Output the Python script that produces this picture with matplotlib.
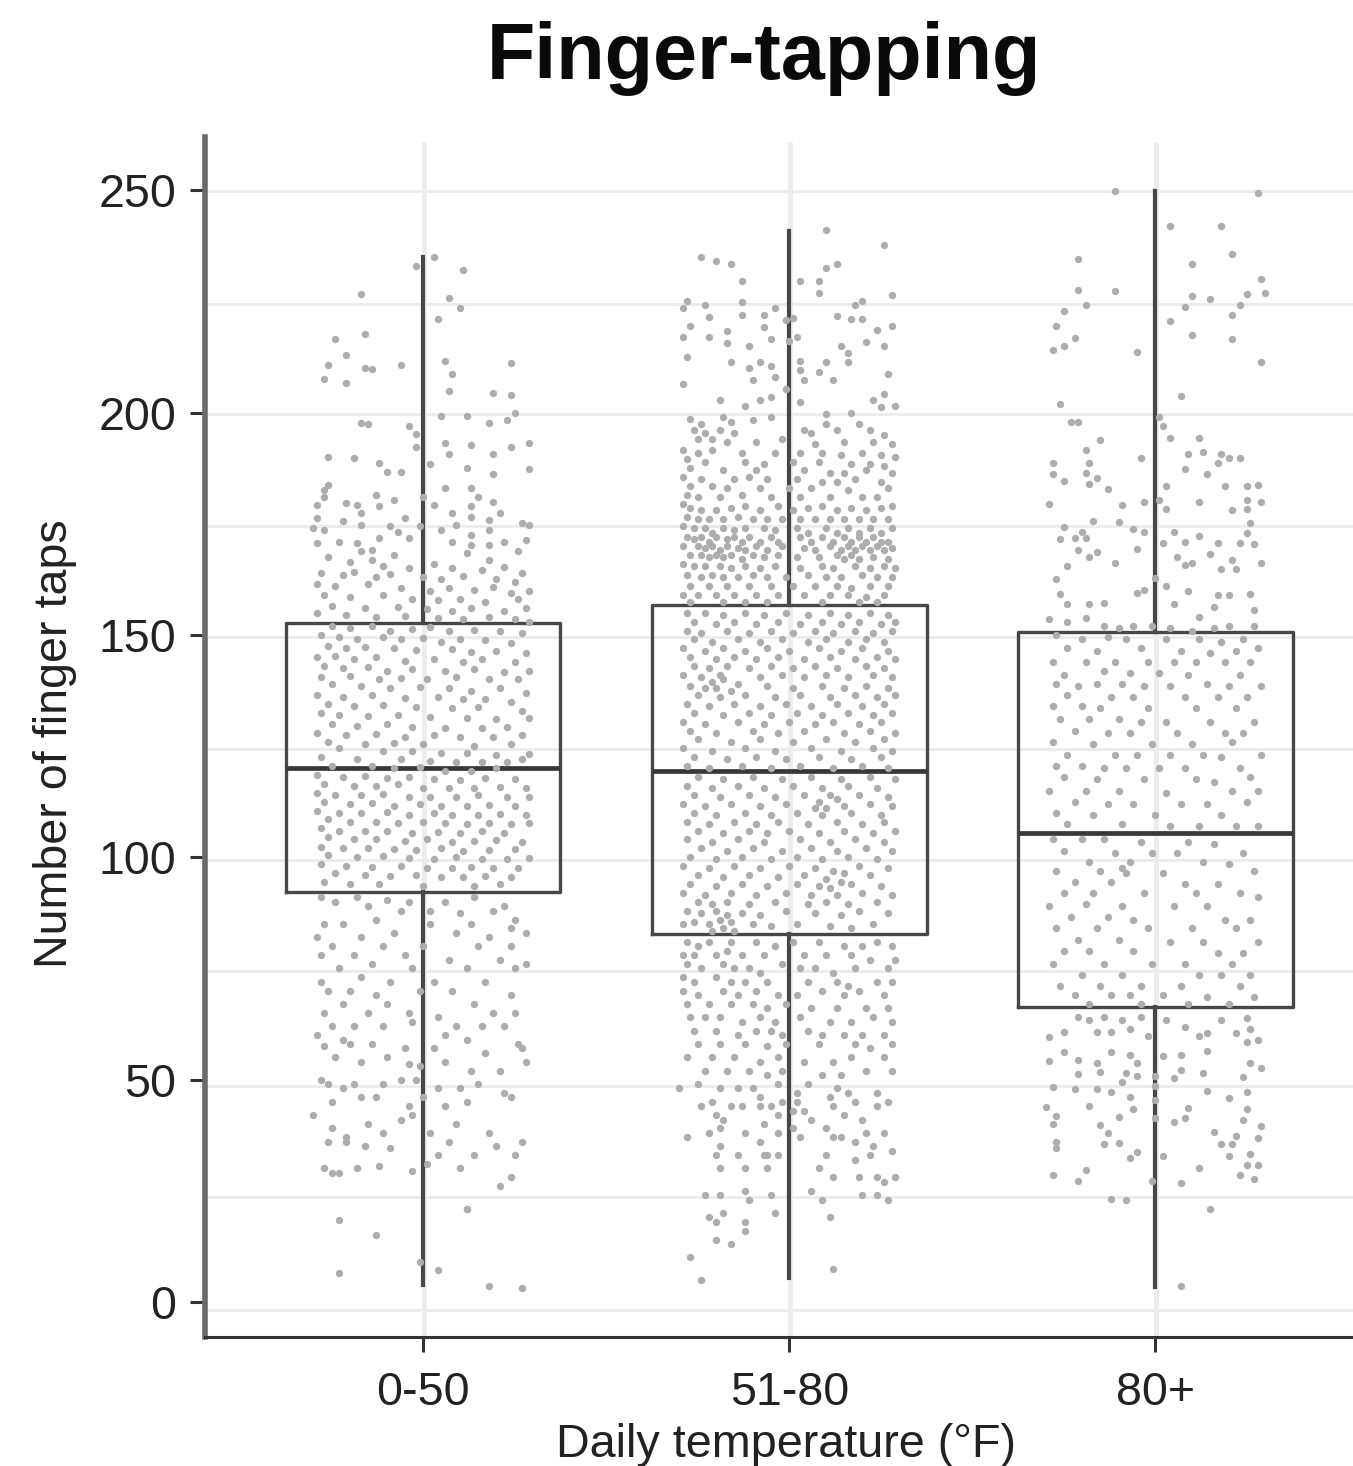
import matplotlib
matplotlib.use("Agg")
import matplotlib.pyplot as plt

plt.rcParams["font.family"] = ["Liberation Sans", "DejaVu Sans"]

categories = ["0-50", "51-80", "80+"]
y_ticks = [0, 50, 100, 150, 200, 250]
grid_y = [249.8, 224.4, 199.6, 174.5, 149.5, 124.3, 99.4, 74.4, 48.6, 23.6, -1.8]

whisker_low = [3.8, 5.4, 3.4]
q1 = [92.2, 82.7, 66.3]
median = [120.0, 119.4, 105.4]
q3 = [152.6, 156.7, 150.6]
whisker_high = [235.0, 240.8, 249.8]

# points: (offset from category centre x100, taps)
points_a = [(3,235),(-2,233),(11,232),(-17,226.8),(7,225.9),(10,223.6),(4,221),(-24,216.5),(-16,217.6),(-21,213),(-26,210.8),(-16,210),(-14,209.9),(-6,210.7),(6,211.6),(24,211.2),(8,208.6),(-27,207.5),(-21,206.7),(7,204.9),(19,204.5),(24,203.9),(-17,197.6),(-15,197.4),(-4,197),(5,199.3),(12,199.2),(25,200),(23,198.3),(18,197.7),(-2,195.2),(6,193.2),(13,192.7),(29,193.2),(24,192.3),(-2,192.3),(19,190.7),(7,190.8),(-26,190),(-19,189.9),(2,188.4),(-12,188.6),(12,187.5),(29,187.3),(-10,186.7),(-6,186.6),(19,186.3),
 (-26,183.7),(-27,182.6),(-27,181),(-29,179.2),(-13,181.5),(-8,180.4),(-21,179.6),(-18,179.2),(-12,178.9),(0,181),(3,179.2),(6,183),(13,183),(15,181),(13,178.9),(13,176.6),(19,180),(21,177.4),(8,177.5),(-29,176.2),(-30,174),(-27,173.6),(-22,175.7),(-17,177.4),(-17,174.7),(-5,176.2),(-9,174.4),(-7,173.2),(-4,171.7),(-1,174.4),(5,173.6),(9,174.7),(18,175.9),(18,173.6),(27,175.1),(29,174.7),(-29,170.6),(-23,171),(-18,170.6),(-12,171.7),(8,170.8),(13,172.5),(13,170.2),(18,170.2),(22,171),(28,171.4),(-17,168.8),(-14,169.1),(-8,168),(-26,167.5),(12,168.4),(26,168.8),(-14,166.9),(-20,166.5),(18,166.9),
 (-11,165.5),(-4,165),(3,166),(8,165),(16,164.5),(22,165.2),(27,164),(-28,164),(-22,163.5),(-19,164.2),(-13,163),(-9,163.8),(0,163),(5,162.5),(11,163.2),(20,162.6),(25,162),(-29,161.5),(-24,161),(-15,161.4),(-6,160.5),(2,160),(7,160.6),(14,160.2),(19,160.8),(24,159.5),(29,160),(-27,159),(-20,158.5),(-11,159),(-3,158),(4,157.8),(10,158.2),(17,157.5),(26,158),(-25,156.5),(-16,156),(-7,156.4),(1,155.8),(8,155.5),(13,156),(22,155.5),(28,156),(-29,155),(-21,154.5),(-13,154),(-5,154.2),(4,153.8),(11,153.5),(18,154),(25,153.5),(29,153),
 (-25,152),(-20,151.5),(-14,152),(-9,151),(-3,151.4),(2,151.8),(7,150.8),(14,151.2),(21,151),(27,150.5),(-28,150),(-23,149.5),(-18,149),(-11,149.6),(-6,149),(0,149.4),(5,148.5),(10,149),(17,148.8),(24,148.2),(-26,147.5),(-21,147),(-16,147.4),(-8,147),(-2,146.6),(8,146.8),(13,146.2),(20,146.4),(28,146),(-29,145),(-24,145.2),(-19,144.6),(-13,145),(-5,144.2),(3,144.6),(11,144),(16,144.5),(25,144),(-27,143),(-22,142.5),(-15,142.8),(-10,142),(-3,142.4),(6,142),(14,142.4),(22,141.6),(29,142),(-28,140.5),(-20,140.8),(-12,140),(-6,140.4),(1,140),(9,140.6),(18,140),(26,140),
 (-25,139),(-17,138.5),(-9,138),(-1,138.4),(7,138),(13,137.5),(21,138),(28,137),(-29,136.5),(-22,136),(-14,136.4),(-5,135.8),(4,136),(11,135.5),(17,135.6),(24,135),(-26,134.5),(-19,134),(-11,134.2),(-2,133.8),(8,133.5),(15,133.8),(27,133),(-28,132.5),(-23,132),(-15,131.8),(-7,132),(2,131.5),(12,131.4),(20,131),(29,131.4),(-25,130),(-18,129.6),(-10,130),(-3,129.4),(6,129),(16,129),(23,129.4),(-29,128),(-21,127.6),(-13,127.8),(-5,127),(3,127.4),(10,127),(19,127),(27,127.5),(-26,126),(-16,125.5),(-8,125.8),(0,125.4),(14,125),(24,125.4),
 (-23,124.5),(-11,124),(-3,123.8),(5,123.5),(12,123.4),(20,123),(29,123.2),(-28,122.5),(-18,122),(-6,122),(2,121.6),(9,121.5),(16,121.4),(23,121.4),(27,122),(-25,120.5),(-14,120.5),(-8,120),(-1,120.4),(6,119.5),(13,119.5),(20,120),(-29,118.5),(-22,118),(-16,118.2),(-10,117.8),(-4,118),(3,117.5),(10,117.4),(17,117.8),(25,117.6),(-27,116.5),(-19,116),(-13,116),(-7,116.4),(0,115.5),(7,115.6),(14,115.6),(21,115.8),(28,115.5),(-29,114.5),(-24,114),(-17,114),(-11,114.2),(-4,113.5),(2,113.6),(9,113.5),(15,114),(23,113.6),(29,113.5),(-27,112.4),(-20,112),(-14,112.2),(-8,111.6),(-1,112),(5,111.6),(12,111.5),(18,111.8),(25,111.6),
 (-29,110.5),(-23,110),(-17,110),(-10,110.2),(-4,109.5),(3,110),(8,109.6),(15,109.5),(21,109.8),(28,109.6),(-26,108.5),(-20,108),(-13,108),(-7,107.8),(0,108),(6,107.6),(12,107.5),(18,107.8),(24,107.5),(29,107.6),(-28,106.5),(-23,106),(-16,106),(-10,105.8),(-3,105.5),(4,105.6),(10,105.5),(16,105.8),(22,105.5),(-26,104.5),(-19,104),(-13,104.2),(-5,103.6),(1,104),(8,103.5),(14,103.6),(20,103.8),(27,103.5),(-28,102.4),(-22,102),(-15,102),(-8,101.8),(-2,101.6),(5,102),(11,101.5),(18,101.6),(25,101.8),(-26,100.4),(-18,100),(-11,100.2),(-4,99.8),(3,99.6),(9,100),(16,99.5),(23,99.6),(29,99.8),(-28,98.5),(-21,98),(-14,97.8),(-6,98),(1,97.6),(8,97.5),(13,97.8),(19,97.5),(26,97.6),(-24,96.5),(-16,96),(-9,95.8),(-2,96),(5,95.6),(11,95.5),(17,95.8),(24,95.5),(-27,94.5),(-20,94),(-12,94),(0,93.6),(14,93.5),(21,94),
 (-28,91),(-24,90),(-18,91),(-10,90.5),(-4,90),(6,90),(14,91),(22,89),(-15,89),(-6,88),(2,88),(10,87.5),(19,88),(25,86),(-27,85),(-22,85),(-13,86),(2,85),(13,85),(24,84),(-29,82),(-17,82),(-8,83),(9,83),(18,82),(28,83),(-25,80),(-11,80),(0,80),(15,80),(24,80),(-28,78),(-19,78),(-5,78),(7,77),(21,77),(28,76),(-14,76),(-23,75),(-3,75),(12,75),(25,75),(-28,72),(-17,73),(-9,72),(3,72),(17,72),(-26,70),(-20,70),(-13,69),(-1,70),(8,70),(24,69),(-22,67),(-10,67),(14,67),(-27,65),(-15,65),(-4,65),(4,64),(19,65),(25,65),(-25,62),(-19,62),(-11,62),(-3,63),(9,62),(16,62),(22,62),(-29,60),(-22,59),(-14,58),(6,60),(12,59),(26,58),
 (-27,57.5),(-20,58),(-5,57),(3,57),(17,56),(27,57),(-24,55),(-17,54),(-10,55),(-4,53.5),(-1,53),(6,54),(13,52),(21,52),(28,54),(-28,50),(-26,49),(-22,48),(-19,49),(-11,49),(-6,50),(-2,50),(4,48),(10,48),(15,49),(22,47),(-25,45),(-17,46),(-13,46),(-4,44),(0,46),(6,44),(12,45),(24,46),(-30,42),(-25,39),(-21,37),(-15,40),(-11,38),(-6,41),(-3,42),(2,38),(9,40),(18,38),(27,36),(-26,36),(-21,36),(-16,35),(-9,34.5),(4,33),(7,36),(14,33),(20,35),(25,33),(-27,30),(-23,29),(-18,30),(-12,30.5),(-3,29.5),(1,31),(10,30),(24,28),(21,26),(-25,29),(12,21),
 (-23,18.4),(-13,15),(-23,6.5),(-1,9),(4,7.2),(12,21),(18,3.6),(27,3.2)]

points_b = [(10,241),(26,237.7),(-24,235),(-20,234.2),(-16,233.5),(13,233.5),(10,232.5),(-13,229.7),(3,229.7),(8,229.7),(8,226.9),(28,226.5),(-13,224.9),(20,225.2),(18,224.3),(-28,225.2),(-29,223.6),(-23,224.3),(-22,221.5),(-13,222),(-7,221.9),(-4,223.6),(-1,220.9),(1,221.3),(13,221.7),(17,221),(20,221),(-27,219.4),(-7,219.2),(28,219.4),(24,218.5),(-17,218.3),(-29,217),(-22,217),(-5,216.6),(0,216.2),(2,217.1),(-17,215.7),(-11,215.1),(21,216),(26,215),(14,215),(16,213.4),(-28,212.5),(-16,211.4),(-11,210),(-8,211.4),(-5,210.6),(3,211.7),(10,211.5),(16,211.5),(3,209.5),(8,209.1),(27,208.8),(-29,206.5),(-10,207.3),(-4,208),(4,207.3),(12,207.3),(-1,205.4),(26,204.3),(-19,202.8),(-8,202.9),(-5,203.5),(3,202.5),(23,202.8),(29,201.6),(25,201.3),(-12,201.5),(10,199.8),(17,200),(-5,199),(-18,199),(-27,198.6),(-24,197.4),(-10,198.3),(-16,197.9),(10,197.4),(19,197.5),
 (-26,196),(-23,195.5),(-19,196),(-15,195.5),(4,196),(6,195.5),(13,196),(22,196),(26,195),(-25,194),(-21,194),(-17,193.5),(-9,193.5),(-2,194),(7,193),(15,193.5),(23,193.5),(28,193),(-29,191.5),(-25,191),(-21,191.5),(-13,191),(-4,191),(3,191),(9,191),(14,190.5),(20,191),(25,190.5),(29,190),(-28,189.5),(-23,189),(-12,189),(-7,188.5),(1,189),(8,189),(17,188.5),(22,188.5),(26,188),(-27,187.5),(-18,187),(-9,187),(4,187),(11,186.5),(15,186.5),(21,187),(28,186.5),(-29,185.5),(-24,185),(-15,185),(-11,185.5),(-6,185),(2,185),(9,184.5),(13,184.5),(18,185),(25,184.5),(-27,183.5),(-21,183.5),(-17,183),(-8,183),(0,183),(6,183),(16,182.5),(27,183),(-28,181.5),(-25,181),(-19,181),(-13,181.5),(-5,181),(3,181),(11,181),(20,181),(24,181),
 (-29,179.5),(-27,178.5),(-24,178),(-20,178),(-16,178.5),(-12,179),(-8,178),(-3,179),(1,178),(5,178.5),(9,179),(13,178),(17,178.5),(21,178),(25,178.5),(28,179),(-28,176.5),(-25,176),(-22,176),(-18,176),(-14,176.5),(-10,176),(-6,176),(-2,176),(3,176),(7,176),(11,176),(15,176),(19,176),(23,176),(27,176),
 (-29,174.5),(-26,174),(-23,174),(-21,173),(-18,174),(-15,173.5),(-12,174),(-7,174),(-4,173.5),(2,174),(5,173),(10,174),(13,173),(16,174),(19,173),(22,174),(25,173),(28,174),(-28,172),(-26,171.5),(-24,172),(-22,171),(-20,172),(-17,171.5),(-15,172),(-13,171),(-11,172),(-8,171),(-5,172),(-3,171),(3,172),(6,171),(9,172),(12,171),(15,172),(17,171),(19,172),(21,171),(23,172),(25,171),(27,171),
 (-29,170),(-25,170),(-23,169.5),(-21,170),(-19,169),(-17,170),(-14,169.5),(-12,169),(-9,170),(-6,169),(-2,170),(4,169.5),(7,169),(11,170),(14,169),(16,170),(18,169),(20,170),(22,169),(24,170),(26,169),(28,169.5),(-27,168),(-24,168),(-22,167.5),(-20,168),(-18,167.5),(-16,168),(-13,167),(-10,168),(-7,167.5),(-3,168),(2,167.5),(8,167.5),(13,168),(15,167),(17,168),(19,167),(23,167.5),(27,167),
 (-29,166),(-26,165.5),(-23,165.5),(-19,165.5),(-16,165),(-12,165.5),(-8,165),(-4,165.5),(3,165),(9,165.5),(12,165),(18,165.5),(22,165),(26,165.5),(29,165),(-28,163.5),(-24,163),(-21,163.5),(-18,163),(-14,163),(-10,163.5),(-6,163),(-1,163),(5,163.5),(10,163),(14,163),(20,163.5),(24,163),(28,163),(-27,161),(-22,161),(-17,161),(-11,161),(-5,161),(1,161),(7,161),(13,161),(17,160.5),(22,161),(27,161),(-29,159),(-25,159),(-20,159),(-15,159),(-9,159),(-3,159),(4,159),(11,159),(16,159),(21,158.5),(26,159),(-27,157.5),(-18,157.5),(-12,157.5),(-6,157.5),(9,157.5),(19,157.5),(24,157.5),
 (-28,155),(-23,155),(-18,154.5),(-12,155),(-7,154.5),(-1,155),(5,154.5),(11,155),(16,154.5),(22,155),(27,154.5),(-26,153),(-20,152.5),(-15,153),(-9,152.5),(-3,153),(3,152.5),(9,153),(14,152.5),(19,153),(25,152.5),(29,153),(-28,151),(-24,150.5),(-17,151),(-11,150.5),(-5,151),(1,150.5),(7,151),(12,150.5),(18,151),(23,150.5),(28,151),(-26,149),(-21,148.5),(-14,149),(-8,148.5),(-2,149),(5,148.5),(10,149),(16,148.5),(21,149),(26,148.5),(-29,147),(-23,146.5),(-18,147),(-12,146.5),(-6,147),(0,146.5),(8,147),(14,146.5),(20,147),(27,146.5),(-27,145),(-20,144.5),(-15,145),(-9,144.5),(-3,145),(4,144.5),(11,145),(18,144.5),(24,145),(29,144.5),
 (-26,143),(-22,142.5),(-17,143),(-11,142.5),(-5,143),(1,142.5),(7,143),(13,142.5),(21,143),(26,142.5),(-29,141),(-24,140.5),(-19,141),(-21,139.5),(-18,140),(-14,139),(-8,140.5),(-2,141),(4,140.5),(10,141),(16,140.5),(23,141),(28,140.5),(-27,138.5),(-23,138),(-20,138),(-16,137.5),(-6,138.5),(1,138),(9,138.5),(15,138),(21,138.5),(27,138),(-25,136.5),(-19,136),(-12,136.5),(-4,136),(3,136.5),(11,136),(18,136.5),(24,136),(29,136.5),(-28,134.5),(-22,134),(-15,134.5),(-8,134),(-1,134.5),(6,134),(13,134.5),(20,134),(26,134.5),(-26,132.5),(-18,132),(-11,132.5),(-5,132),(2,132.5),(9,132),(16,132.5),(23,132),(28,132.5),(-29,130.5),(-23,130),(-14,130.5),(-7,130),(0,130.5),(7,130),(12,130.5),(19,130),(25,130.5),(-27,128.5),(-20,128),(-10,128.5),(-3,128),(4,128.5),(15,128),(22,128.5),(29,128),(-25,126.5),(-16,126),(-8,126.5),(1,126),(10,126.5),(18,126),(26,126.5),(-29,124.5),(-21,124),(-12,124.5),(-4,124),(6,124.5),(14,124),(23,124.5),(28,124),(-26,122.5),(-17,122),(-9,122.5),(-1,122),(8,122.5),(17,122),(25,122.5),
 (-28,120.5),(-22,120),(-13,120.5),(-5,120),(3,120.5),(12,120),(20,120.5),(27,120),(-25,118),(-18,117.5),(-10,118),(-2,117.5),(6,118),(14,117.5),(22,118),(29,117.5),(-28,116),(-21,115.5),(-14,116),(-7,115.5),(1,116),(9,115.5),(11,114),(16,116),(24,115.5),(-26,114),(-19,113.5),(-11,114),(-4,113.5),(4,114),(8,112.5),(13,113),(19,114),(27,113.5),(-29,112),(-23,111.5),(-16,112),(-8,111.5),(-1,112),(7,111),(10,111),(15,111.5),(22,112),(28,111.5),(-26,110),(-20,109.5),(-12,110),(-5,109.5),(2,110),(9,109.5),(17,110),(25,109.5),(-28,108),(-22,107.5),(-15,108),(-9,107.5),(-3,108),(5,107.5),(13,108),(20,107.5),(26,108),(-25,106),(-18,105.5),(-11,106),(-6,105.5),(0,106),(8,105.5),(15,106),(23,105.5),(29,106),(-28,104),(-21,103.5),(-14,104),(-7,103.5),(3,104),(11,103.5),(18,104),(26,103.5),(-24,102),(-17,101.5),(-10,102),(-2,101.5),(6,102),(13,101.5),(21,102),(28,101.5),(-27,100),(-20,99.5),(-13,100),(-5,99.5),(2,100),(9,99.5),(16,100),(24,99.5),(-29,98),(-22,97.5),(-15,98),(-8,97.5),(0,98),(7,97.5),(12,97),(15,96.5),(19,98),(27,97.5),(-25,96),(-18,95.5),(-11,96),(-3,95.5),(4,96),(10,95),(14,94.5),(22,96),(-27,94),(-20,93.5),(-13,94),(-6,93.5),(2,94),(8,93.5),(11,93),(17,94),(25,93.5),(-29,92),(-23,91.5),(-16,92),(-9,91.5),(-1,92),(6,91.5),(13,91.5),(20,92),(28,91.5),(-25,90),(-21,89.5),(-17,90),(-11,89.5),(-4,90),(5,89.5),(10,90),(16,89.5),(24,90),
 (-28,88),(-24,87.5),(-20,88),(-19,86),(-17,87),(-16,85.5),(-13,87.5),(-8,87),(-1,88),(7,87.5),(14,87),(19,88),(27,87.5),(-29,85),(-26,85.5),(-22,85),(-21,83.5),(-18,84),(-15,83.5),(-10,85),(-5,84.5),(2,85),(11,84.5),(17,84),(23,85),
 (-28,81),(-25,80),(-22,81),(-16,81),(-9,81),(-4,80),(1,81),(8,81),(15,80),(20,80),(24,81),(28,80),(-29,78),(-26,78),(-20,78),(-17,79),(-13,78),(-7,78),(4,78),(10,78),(17,78),(22,77),(29,77),(-28,76),(-24,75),(-18,76),(-15,75),(-11,75),(-8,74),(-2,76),(3,75),(7,75),(12,74),(18,75),(27,75),(-29,73),(-26,72),(-20,73),(-16,72),(-12,72),(-6,72),(5,72),(13,72),(16,71),(24,72),(28,72),(-29,70),(-25,69),(-18,70),(-14,69),(-9,70),(-3,69),(2,69),(9,70),(15,69),(19,70),(26,69),(-28,67),(-22,67),(-16,67),(-10,67),(-6,66),(-1,67),(6,66),(13,66),(21,66),(27,66),(-27,64),(-23,64),(-19,64),(-13,63),(-8,64),(-4,63),(3,64),(11,63),(17,63),(23,64),(28,63),(-26,61),(-20,61),(-14,60),(-9,61),(-5,61),(-2,60),(5,61),(9,60),(15,60),(20,60),(26,60),(-25,58),(-19,58),(-12,58),(-6,57.5),(-1,58),(8,58),(18,58),(22,57),(28,58),(-28,55),(-21,55),(-15,55),(-8,54),(-3,55),(4,54),(12,54),(17,55),(26,55),(-23,52),(-17,52),(-11,52),(-6,51),(-2,52),(9,51),(14,51),(21,52),(28,52),(-30,48),(-25,49),(-19,48),(-14,48),(-10,48),(-3,49),(2,47),(5,49),(13,48),(16,47),(24,47),(-21,45),(-13,44),(-8,46),(-2,45),(2,45),(11,46),(18,45),(27,45),
 (-24,44),(-20,42),(-16,44),(-8,44),(-5,44),(-3,42),(1,43),(4,43),(12,44),(15,42),(20,41),(24,44),(-18,41),(-22,38),(-19,39),(-12,38),(-7,40),(-3,38),(1,39),(6,41),(10,39),(14,37),(21,38),(26,38),(-28,37),(-19,35),(-8,36),(3,37),(12,37),(18,36),(23,35),(-20,33),(-14,33),(-7,33),(-6,33),(-3,33),(10,33),(18,32),(22,33),(28,34),(-19,30),(-12,30),(-6,30),(8,30),(12,28),(19,28),(24,28),(26,27),(29,28),(-23,24),(-19,24),(-12,25),(-11,23),(-5,24),(6,25),(9,23),(20,24),(24,24),(27,23),(-18,20),(-22,19),(-20,18),(-12,18),(-4,20),(11,19),(-12,16),(-27,10),(-24,5),(12,7.5),(-20,14),(-16,13)]

points_c = [(-11,249.8),(28,249.5),(4,242),(18,242),(-21,234.5),(10,233.5),(21,235.7),(29,230),(-21,227.7),(-11,227.4),(10,226.3),(15,225.5),(25,226.7),(30,227),(-19,224.3),(-25,222.8),(8,223.7),(23,224.3),(21,221.9),(4,220.6),(-27,219.6),(10,217.5),(-22,216.8),(21,216.5),(-25,214.9),(-28,214),(-5,213.6),(29,211.5),(7,203.7),(-26,202),(-21,198),(-23,198),(1,199),(2,197),(-15,193.8),(4,194.3),(12,194.2),(-19,191.7),
 (-28,188.7),(-18,188.7),(-28,186.1),(-25,184.6),(-19,186.5),(-16,185.2),(-18,184),(-13,182.8),(-4,189.9),(9,190.6),(13,191.2),(18,190.8),(17,188.7),(20,189.7),(23,189.9),(8,187.4),(14,186.1),(3,183.4),(19,183.5),(25,183.4),(28,183.7),(-29,179.5),(-9,179.2),(-3,179.9),(1,180.4),(3,178.3),(12,179.9),(25,180.3),(29,179.9),(25,178.4),(21,178),(-17,175.7),(-10,175.3),(-25,174.3),(-6,173.9),(-3,173.2),(26,175.2),(25,173),(-20,173.2),(5,173.2),(-19,171.7),(-26,171.5),(-22,171.7),(12,172.2),(8,170.9),(2,170.6),(17,170.7),(23,170.7),(27,170.4),(-5,169.4),(-21,169),(-16,168.7),(-18,167.6),(15,168.3),(6,167.6),(-11,166.2),(-24,165.5),(8,165.7),(10,166.2),(18,164.9),(22,164.9),(21,166.8),(29,166.2),(-27,162.5),(0,162.7),(3,161),(-26,159.3),(-5,159.5),(-3,160.2),(9,160),(17,159),(20,159),(26,159.3),(-24,157),(-18,156.9),(-14,157.2),(5,157),(16,156.3),(27,155.6),(12,154.1),(-29,153.5),(-24,153),(-19,153.9),
 (-14,152),(-10,151.5),(-6,152),(-1,152),(4,151.5),(10,151),(16,151.5),(20,152),(27,152),(-27,150),(-20,149),(-13,149.5),(-8,149),(3,149),(12,149),(18,148.5),(24,149),(-24,147),(-16,146.5),(-4,147),(7,146.5),(15,146),(22,146.5),(28,147),(-28,144),(-19,144),(-11,144),(-2,144),(5,144),(11,144),(19,144),(26,144),(-25,141),(-14,142),(-7,141.5),(1,141.5),(9,141),(23,141),(-27,139),(-21,138.5),(-16,139),(-9,139),(-3,138.5),(4,138.5),(14,139),(20,138.5),(29,138.5),(-24,136.5),(-12,136),(-6,136),(8,136),(17,136),(25,136),(-28,134),(-20,134),(-15,133.5),(-2,133.5),(11,133.5),(22,133.5),(-26,131),(-18,131),(-10,131),(-4,130.5),(3,130.5),(15,130.5),(27,130.5),(-22,128.5),(-13,128),(-7,128),(6,128),(19,128),(24,128),(-28,126),(-17,125.5),(-1,125.5),(10,125.5),(21,126),(-24,123),(-11,123),(-5,123),(4,123),(13,123),(18,122.5),(29,123),(-27,120.5),(-20,120.5),(-14,120),(-8,120),(1,120),(8,120),(23,120),(26,118),(-25,118),(-16,117.5),(-3,117.5),(11,117.5),(16,117),(-29,115),(-19,115),(-10,115),(3,114.5),(21,115),(28,115),(-22,112.5),(-13,112),(-6,112),(7,112),(14,112),(25,112.5),(-27,110),(-17,109.5),(0,109.5),(18,109.5),(-24,107.5),(-9,107.5),(4,107),(12,107),(22,107),(28,107),(-28,104),(-20,104),(-14,104),(-4,103.5),(9,103.5),(16,103),(-25,101.5),(-11,101),(-1,101),(6,101),(24,101),(-18,99),(-7,99),(13,99),(20,98.5),(-27,97),(-15,97),(-9,97.5),(-8,96.5),(2,96.5),(27,97),(-22,94.5),(-12,94.5),(8,94),(17,94),(-25,92),(-17,92),(-3,92),(11,92),(23,92),(28,91),(-29,89),(-19,89.5),(-9,89),(5,89),(14,89),(-23,86.5),(-13,86.5),(-6,86),(19,86),(26,86),(-27,84),(-16,84),(-2,84),(10,84),(22,84),(-21,81.5),(-10,81.5),(4,81),(13,81),(28,81),(-25,79),(-18,79),(-6,79),(17,78.5),(24,78.5),(-28,76),(-14,76),(-1,76),(8,76),(21,76),(-20,73.5),(-9,73.5),(12,73.5),(18,73.5),(26,73.5),(-26,71),(-15,71),(-4,71),(7,71),(23,71),(-22,69),(-12,69),(-7,69),(2,69),(14,68.5),(27,68.5),(-18,67),(-4,67),(9,67),(20,67),
 (-29,59.5),(-25,60.8),(-16,60.8),(-12,60.8),(-7,61.3),(-2,59.8),(8,61.8),(14,60.4),(12,59.8),(18,63.4),(25,63.8),(22,60.4),(25,58.5),(28,58.9),(26,61.3),(-21,64),(-18,63.5),(-14,64),(-9,63.5),(-4,64),(3,63.5),(-25,56.3),(-29,54.2),(-21,54.4),(-12,56.3),(-7,55.5),(-5,53.8),(2,55.3),(7,55.5),(14,56.5),(26,53.7),(29,52.7),(-16,53.8),(-21,51.3),(-15,51.8),(-8,51.4),(-5,50.7),(0,50.7),(7,52.2),(5,50.3),(13,51.4),(24,50.5),(-28,48.4),(-22,47.8),(-16,47.8),(-12,47.3),(-9,49.5),(0,48.6),(14,47.5),(25,47.3),(20,45.8),(-7,46),(0,45.4),(-18,44.1),(-30,43.8),(-6,43.4),(9,43.6),(25,43.3),(-27,41.7),(-28,40),(-15,39.8),(-10,41.5),(0,41.3),(8,41.3),(5,40.4),(24,41),(29,39.6),(16,38.3),(-13,37.9),(28,36.8),(22,37.2),(-27,36),(-14,35.5),(-10,35.8),(18,35.5),(21,35.5),(-27,34.6),(26,33.3),(-5,33.6),(-7,32.3),(2,32.7),(20,32.7),(25,30.7),(28,30.7),(12,30.1),(-19,29.6),(-28,28.6),(23,28.6),(27,27.7),(-21,27.2),(-1,27.2),(7,26.7),(-12,23.2),(-8,23),(15,20.9),(7,3.6)]

point_colour = "#adadad"
dark = "#474747"

fig = plt.figure(figsize=(13.53, 14.66), dpi=100)
ax = fig.add_axes([205 / 1353, (1466 - 1337) / 1466, (1353 - 205) / 1353, (1337 - 137) / 1466])

for g in grid_y:
    ax.axhline(g, color="#ececec", lw=2.2, zorder=1)
for i in range(len(categories)):
    ax.plot([i + 0.003, i + 0.003], [-7.9, 260.5], color="#ececec", lw=3.4, zorder=1)

stats = []
for i, name in enumerate(categories):
    stats.append({"label": name, "whislo": whisker_low[i], "q1": q1[i], "med": median[i],
                  "q3": q3[i], "whishi": whisker_high[i], "fliers": []})
ax.bxp(stats, positions=[0, 1, 2], widths=0.75, showcaps=False, showfliers=False,
       boxprops=dict(color=dark, lw=2.4), whiskerprops=dict(color=dark, lw=3),
       medianprops=dict(color="#383838", lw=3.4), zorder=3)

for i, pts in enumerate([points_a, points_b, points_c]):
    xs = [i + p[0] / 100 for p in pts]
    ys = [p[1] for p in pts]
    ax.scatter(xs, ys, s=28, color=point_colour, linewidths=0, zorder=4)

ax.set_xlim(-0.596, 2.54)
ax.set_ylim(-7.9, 262)
ax.set_xticks([0, 1, 2])
ax.set_xticklabels(categories)
ax.set_yticks(y_ticks)
ax.tick_params(axis="both", labelsize=33.5, length=10.5, width=2.2, color="#333333", labelcolor="#222222")
ax.tick_params(axis="x", pad=14)
ax.tick_params(axis="y", pad=10)

ax.spines["top"].set_visible(False)
ax.spines["right"].set_visible(False)
ax.spines["left"].set_color("#6a6a6a")
ax.spines["left"].set_linewidth(4)
ax.spines["bottom"].set_color("#333333")
ax.spines["bottom"].set_linewidth(2.2)

ax.set_xlabel("Daily temperature (°F)", fontsize=33.7, color="#222222")
ax.set_ylabel("Number of finger taps", fontsize=33.6, color="#222222")
ax.xaxis.set_label_coords((786 - 205) / 1148, -(1423 - 1337) / 1200)
ax.yaxis.set_label_coords((77 - 205) / 1148, (1337 - 744) / 1200)
fig.text(764 / 1353, 1 - 58 / 1466, "Finger-tapping", fontsize=57, fontweight="bold",
         ha="center", va="center", color="#0a0a0a")

fig.savefig("out.png", dpi=100)
